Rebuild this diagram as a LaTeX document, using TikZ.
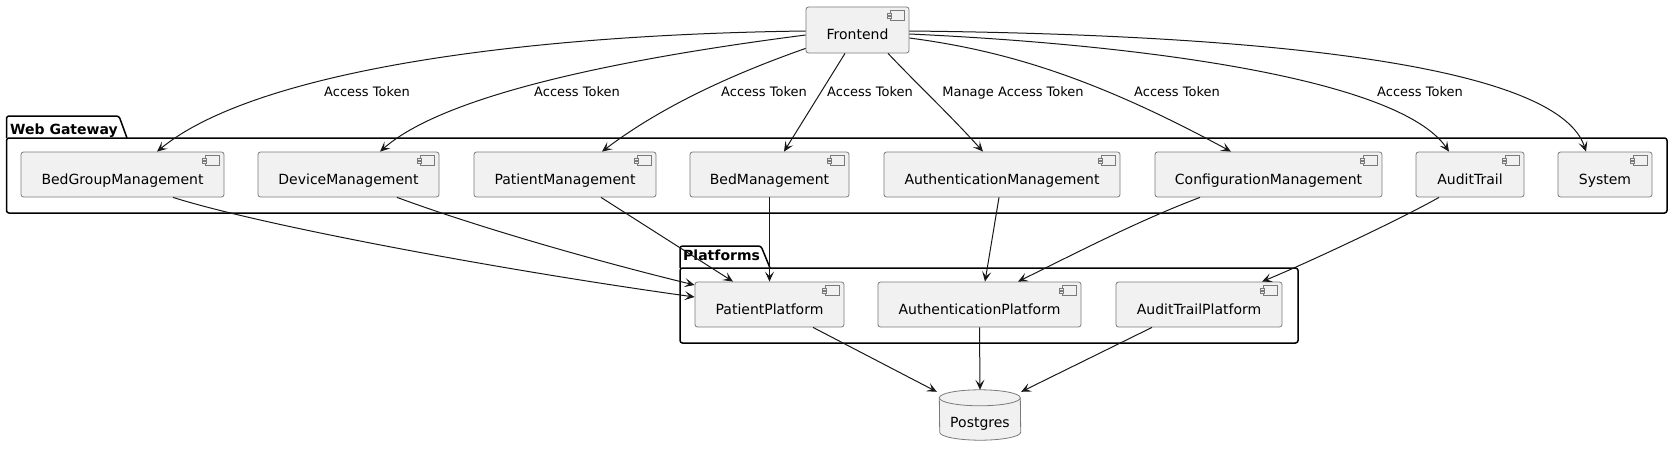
\documentclass[tikz,border=0pt]{standalone}
\usepackage{fontspec}
\setmainfont{DejaVu Sans}
\usetikzlibrary{arrows.meta,calc}
\definecolor{linecol}{HTML}{181818}
\definecolor{boxline}{HTML}{7A7A7A}
\definecolor{compfill}{HTML}{F1F1F1}
\tikzset{
  comp/.style={draw=boxline, line width=0.8pt, fill=compfill, rounded corners=2.5pt,
    minimum height=45pt, inner sep=0pt, text height=19pt, text depth=0pt,
    font=\fontsize{14}{17}\selectfont},
  lbl/.style={inner sep=0pt, text height=10pt, text depth=0pt, font=\fontsize{13}{15}\selectfont},
  pkglbl/.style={inner sep=0pt, anchor=base west, font=\fontsize{14}{17}\selectfont\bfseries},
  pkgline/.style={draw=black, line width=1.5pt, rounded corners=2.5pt},
  iconline/.style={draw=boxline, line width=0.8pt},
  arr/.style={draw=linecol, line width=1pt, -{Stealth[length=10pt,width=9pt,inset=4.5pt]}}
}
\begin{document}
\begin{tikzpicture}[x=1pt,y=1pt,yscale=-1,xscale=1]
    \useasboundingbox (0,0) rectangle (1673,452);

    %Shape: Package Web Gateway
    \draw [pkgline] (6.5,138) rectangle (1667,213) ;
    \draw [pkgline] (6.5,138) -- (6.5,116) -- (119,116) -- (127,138) ;
    %Shape: Package Platforms
    \draw [pkgline] (680,268) rectangle (1298,343) ;
    \draw [pkgline] (680,268) -- (680,246) -- (761,246) -- (770,268) ;

    % Text Node
    \node [pkglbl] (wglbl) at (10,134) {Web Gateway};
    % Text Node
    \node [pkglbl] (pflbl) at (683,260.5) {Platforms};

    %Shape: Components
    \node [comp, minimum width=103pt, minimum height=46pt] (fe) at (857.5,30) {Frontend};
    \node [comp, minimum width=203pt] (bgm) at (122.5,174.5) {BedGroupManagement};
    \node [comp, minimum width=181pt] (dm) at (348.5,174.5) {DeviceManagement};
    \node [comp, minimum width=182pt] (pm) at (565,174.5) {PatientManagement};
    \node [comp, minimum width=159pt] (bedm) at (769.5,174.5) {BedManagement};
    \node [comp, minimum width=236pt] (am) at (1002,174.5) {AuthenticationManagement};
    \node [comp, minimum width=227pt] (cm) at (1268.5,174.5) {ConfigurationManagement};
    \node [comp, minimum width=108pt] (at) at (1470,174.5) {AuditTrail};
    \node [comp, minimum width=94pt] (sys) at (1605,174.5) {System};
    \node [comp, minimum width=149pt] (pp) at (769.5,304.5) {PatientPlatform};
    \node [comp, minimum width=203pt] (ap) at (979.5,304.5) {AuthenticationPlatform};
    \node [comp, minimum width=166pt] (atp) at (1199,304.5) {AuditTrailPlatform};

    %Shape: Component icons
    \foreach \c in {fe,bgm,dm,pm,bedm,am,cm,at,sys,pp,ap,atp} {
      \draw [iconline] ($(\c.north east)+(-19,4)$) rectangle ++(14,10) ;
      \draw [iconline, fill=compfill] ($(\c.north east)+(-22,6.5)$) rectangle ++(4,2) ;
      \draw [iconline, fill=compfill] ($(\c.north east)+(-22,10)$) rectangle ++(4,2) ;
    }

    %Shape: Database Postgres
    \node [inner sep=0pt, minimum width=81pt, minimum height=50pt] (pg) at (980,415) {};
    \draw [iconline, fill=compfill] ($(pg.north west)+(0,8)$) arc [start angle=180, end angle=360, x radius=40.5, y radius=8]
      -- ($(pg.south east)+(0,-8)$) arc [start angle=0, end angle=180, x radius=40.5, y radius=8] -- cycle ;
    \draw [iconline] ($(pg.north west)+(0,8)$) arc [start angle=180, end angle=0, x radius=40.5, y radius=8] ;
    \node [inner sep=0pt, text height=24pt, text depth=0pt, font=\fontsize{14}{17}\selectfont] (pgtxt) at (pg) {Postgres};

    %Curve Lines: Frontend to Web Gateway
    \draw [arr] ($(fe.west)+(0,1)$) .. controls (500,35) and (250,75) .. ($(bgm.north)+(34.5,0)$) ;
    \draw [arr] ($(fe.west)+(0,5)$) .. controls (650,55) and (450,90) .. ($(dm.north)+(31.5,0)$) ;
    \draw [arr] ($(fe.south west)+(0,-5)$) .. controls (750,68) and (670,100) .. ($(pm.north)+(37,0)$) ;
    \draw [arr] ($(fe.south)+(-12.5,0)$) -- ($(bedm.north)+(14.5,0)$) ;
    \draw [arr] ($(fe.south)+(30.5,0)$) .. controls (918,85) and (950,115) .. ($(am.north)+(-19,0)$) ;
    \draw [arr] ($(fe.east)+(0,8)$) .. controls (1000,50) and (1090,75) .. ($(cm.north)+(-37.5,0)$) ;
    \draw [arr] ($(fe.east)+(0,4)$) .. controls (1150,45) and (1400,80) .. ($(at.north)+(-21,0)$) ;
    \draw [arr] ($(fe.east)+(0,1)$) .. controls (1300,35) and (1560,70) .. ($(sys.north)+(-19,0)$) ;

    % Text Node
    \node [lbl] (lbgm) at (367,91) {Access Token};
    % Text Node
    \node [lbl] (ldm) at (577,91) {Access Token};
    % Text Node
    \node [lbl] (lpm) at (764,91) {Access Token};
    % Text Node
    \node [lbl] (lbedm) at (870,91) {Access Token};
    % Text Node
    \node [lbl] (lam) at (1013,91) {Manage Access Token};
    % Text Node
    \node [lbl] (lcm) at (1177,91) {Access Token};
    % Text Node
    \node [lbl] (lat) at (1420,91) {Access Token};

    %Straight Lines: Web Gateway to Platforms
    \draw [arr] ($(bgm.south)+(50.5,0)$) .. controls (260,225) and (500,270) .. ($(pp.west)+(0,-7.5)$) ;
    \draw [arr] ($(dm.south)+(48.5,0)$) .. controls (480,228) and (600,262) .. ($(pp.west)+(0,-19.5)$) ;
    \draw [arr] ($(pm.south)+(36,0)$) -- ($(pp.north)+(-36.5,0)$) ;
    \draw [arr] (bedm.south) -- (pp.north) ;
    \draw [arr] ($(am.south)+(-3,0)$) -- ($(ap.north)+(5.5,0)$) ;
    \draw [arr] ($(cm.south)+(-68.5,0)$) .. controls (1140,220) and (1078,252) .. ($(ap.north)+(38.5,0)$) ;
    \draw [arr] ($(at.south)+(-31,0)$) .. controls (1399,220) and (1307,263) .. ($(atp.north)+(63,0)$) ;

    %Straight Lines: Platforms to Postgres
    \draw [arr] ($(pp.south)+(43.5,0)$) -- ($(pg.north west)+(-2.5,2)$) ;
    \draw [arr] (ap.south) -- (pg.north) ;
    \draw [arr] ($(atp.south)+(-47,0)$) -- ($(pg.north east)+(0.5,2)$) ;

\end{tikzpicture}
\end{document}
